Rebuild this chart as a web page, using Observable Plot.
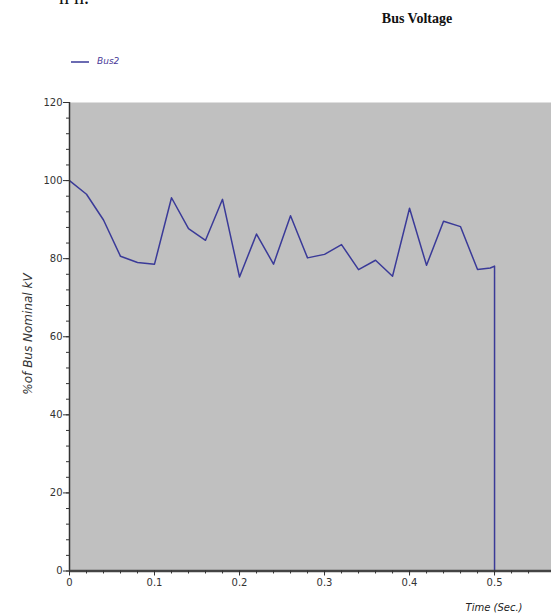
<!DOCTYPE html>
<html>
<head>
<meta charset="utf-8">
<script src="https://cdn.jsdelivr.net/npm/d3@7"></script>
<script src="https://cdn.jsdelivr.net/npm/@observablehq/plot@0.6"></script>
<style>
  html, body { margin: 0; padding: 0; background: #fff; }
  #wrap { position: relative; width: 551px; height: 614px; overflow: hidden; }
  #chart { position: absolute; left: 0; top: 0; }
  .abs { position: absolute; white-space: nowrap; }
</style>
</head>
<body>
<div id="wrap">
  <div id="chart"></div>
  <div class="abs" id="frag" style="left:59px; top:-14px; font-family:'Liberation Serif',serif; font-size:20px; color:#111;">n n.</div>
  <div class="abs" id="title" style="left:417px; top:11px; transform:translateX(-50%); font-family:'Liberation Serif',serif; font-weight:bold; font-size:14px; color:#111;">Bus Voltage</div>
  <svg class="abs" style="left:71px; top:57px;" width="20" height="10"><line x1="0" y1="5" x2="18" y2="5" stroke="#3a3a98" stroke-width="1.5"/></svg>
  <div class="abs" id="leg" style="left:97px; top:56px; font-family:'DejaVu Sans',sans-serif; font-style:italic; font-size:9px; color:#4a3a98;">Bus2</div>
  <div class="abs" id="ylab" style="left:28px; top:334px; transform:translate(-50%,-50%) rotate(-90deg); font-family:'DejaVu Sans',sans-serif; font-style:italic; font-size:12px; color:#333;">%of Bus Nominal kV</div>
  <div class="abs" id="xlab" style="left:494px; top:602px; transform:translateX(-50%); font-family:'DejaVu Sans',sans-serif; font-style:italic; font-size:10px; color:#222;">Time (Sec.)</div>
</div>
<script>
// Data
const seriesName = "Bus2";
const time = [0, 0.02, 0.04, 0.06, 0.08, 0.10, 0.12, 0.14, 0.16, 0.18, 0.20, 0.22, 0.24, 0.26, 0.28, 0.30, 0.32, 0.34, 0.36, 0.38, 0.40, 0.42, 0.44, 0.46, 0.48, 0.495, 0.50, 0.50];
const voltage = [100, 96.5, 89.9, 80.6, 79.0, 78.6, 95.6, 87.7, 84.7, 95.2, 75.3, 86.3, 78.6, 91.0, 80.2, 81.1, 83.6, 77.2, 79.6, 75.5, 92.9, 78.3, 89.6, 88.2, 77.2, 77.6, 78.1, 0];
const yMajorTicks = [0, 20, 40, 60, 80, 100, 120];
const yMinorTicks = d3.range(0, 121, 4);
const xMajorTicks = [0, 0.1, 0.2, 0.3, 0.4, 0.5];
const xMinorTicks = d3.range(0, 28).map(i => i * 0.02);
const xTickLabels = ["0", "0.1", "0.2", "0.3", "0.4", "0.5"];

const data = time.map((t, i) => ({t, v: voltage[i], series: seriesName}));

const chart = Plot.plot({
  width: 551,
  height: 614,
  marginTop: 102,
  marginBottom: 43.5,
  marginLeft: 69,
  marginRight: 0,
  x: {domain: [0, 0.567], axis: null, label: null},
  y: {domain: [0, 120], axis: null, label: null},
  style: {fontFamily: "'DejaVu Sans', sans-serif", fontSize: "10px", color: "#333", background: "transparent"},
  marks: [
    Plot.frame({fill: "#c0c0c0", stroke: null}),
    Plot.line(data, {x: "t", y: "v", stroke: "#3a3a98", strokeWidth: 1.5}),
    Plot.ruleX([0], {stroke: "#333", strokeWidth: 1.5}),
    Plot.ruleY([0], {stroke: "#444", strokeWidth: 2.5}),
    Plot.axisY(yMinorTicks, {tickSize: 3, tickFormat: () => "", stroke: "#333", label: null}),
    Plot.axisY(yMajorTicks, {tickSize: 6, tickPadding: 1, stroke: "#333", fill: "#333", label: null}),
    Plot.axisX(xMinorTicks, {tickSize: 3, tickFormat: () => "", stroke: "#333", label: null}),
    Plot.axisX(xMajorTicks, {tickSize: 5, tickPadding: 3, stroke: "#333", fill: "#333", label: null,
      tickFormat: d => xTickLabels[xMajorTicks.indexOf(d)]})
  ]
});
document.getElementById("chart").appendChild(chart);
</script>
</body>
</html>
